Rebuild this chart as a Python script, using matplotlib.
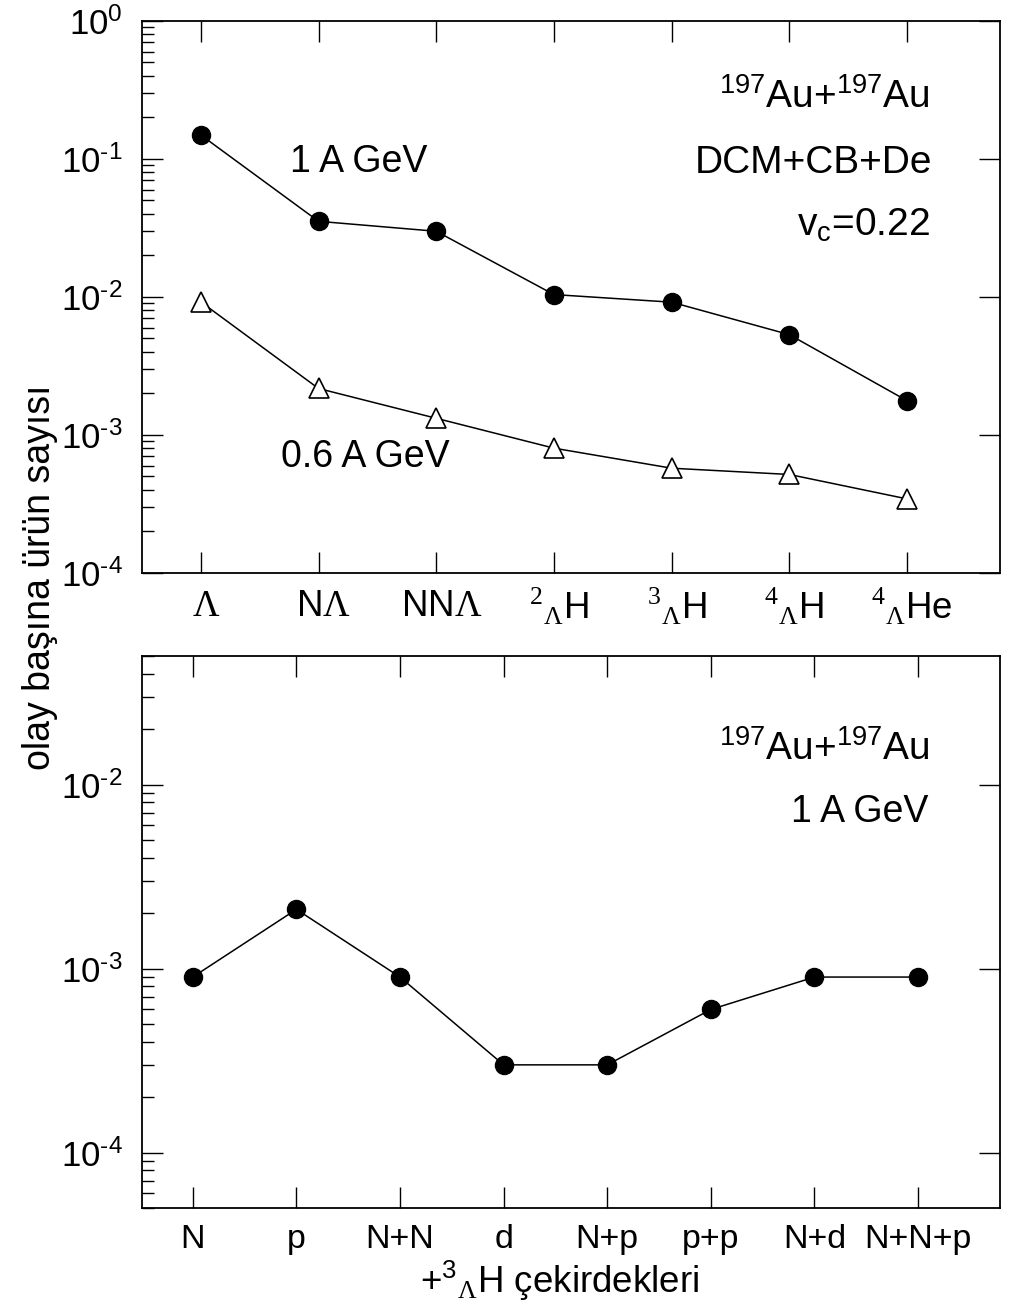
import matplotlib
matplotlib.use("Agg")
import matplotlib.pyplot as plt
import matplotlib.transforms as mtransforms
from matplotlib.ticker import NullLocator, NullFormatter, LogLocator, FuncFormatter
import numpy as np

plt.rcParams['font.family'] = ['Liberation Sans', 'DejaVu Sans']
plt.rcParams['mathtext.fontset'] = 'custom'
plt.rcParams['mathtext.rm'] = 'Liberation Sans'
plt.rcParams['mathtext.it'] = 'Liberation Sans:italic'
plt.rcParams['mathtext.bf'] = 'Liberation Sans:bold'
plt.rcParams['mathtext.tt'] = 'Liberation Serif'
plt.rcParams['axes.unicode_minus'] = False

# top panel: hypernuclei yields
hyper_labels = [r'$\mathtt{\Lambda}$', r'N$\mathtt{\Lambda}$', r'NN$\mathtt{\Lambda}$',
                r'${}^{\mathtt{2}}{}_{\mathtt{\Lambda}}$H', r'${}^{\mathtt{3}}{}_{\mathtt{\Lambda}}$H',
                r'${}^{\mathtt{4}}{}_{\mathtt{\Lambda}}$H', r'${}^{\mathtt{4}}{}_{\mathtt{\Lambda}}$He']
yield_1gev = [0.149, 0.0353, 0.0299, 0.0104, 0.00916, 0.00533, 0.00177]
yield_06gev = [0.0092, 0.00217, 0.00132, 0.000802, 0.000574, 0.000517, 0.000344]

# bottom panel: 3LH + fragments
frag_labels = ['N', 'p', 'N+N', 'd', 'N+p', 'p+p', 'N+d', 'N+N+p']
frag_yield = [9.0e-4, 2.1e-3, 9.0e-4, 3.0e-4, 3.0e-4, 6.0e-4, 9.0e-4, 9.0e-4]

fig = plt.figure(figsize=(10.15, 13.06), dpi=100)
ax1 = fig.add_axes([0.1399, 0.5613, 0.8453, 0.4227])
ax2 = fig.add_axes([0.1399, 0.0750, 0.8453, 0.4227])


def pow_label(v, pos):
    e = int(round(np.log10(v)))
    if e < 0:
        return r'10$^{\text{-%d}}$' % (-e)
    return r'10$^{%d}$' % e


def style_axis(ax, xpad, xsize):
    ax.set_yscale('log')
    ax.yaxis.set_major_locator(LogLocator(base=10, numticks=10))
    ax.yaxis.set_minor_locator(LogLocator(base=10, subs=range(2, 10), numticks=10))
    ax.yaxis.set_major_formatter(FuncFormatter(pow_label))
    ax.yaxis.set_minor_formatter(NullFormatter())
    ax.xaxis.set_minor_locator(NullLocator())
    ax.tick_params(which='both', direction='in', top=True, right=True, colors='black')
    ax.tick_params(which='major', length=15, width=1.0)
    ax.tick_params(which='minor', length=8.5, width=1.0, right=False)
    ax.tick_params(axis='y', labelsize=25, pad=14)
    ax.tick_params(axis='x', labelsize=xsize, pad=xpad)
    for s in ax.spines.values():
        s.set_linewidth(1.3)


# top panel
x1 = range(len(hyper_labels))
ax1.plot(x1, yield_1gev, '-o', color='black', lw=1.1, ms=13)
ax1.plot(x1, yield_06gev, '-^', color='black', lw=1.1, ms=14,
         mfc='white', mec='black', mew=1.2)
style_axis(ax1, 24, 26.5)
ax1.set_xticks(list(x1))
ax1.set_xticklabels(hyper_labels, va='center')
shift = mtransforms.ScaledTranslation(5 / 100, 0, fig.dpi_scale_trans)
for lab in ax1.get_xticklabels():
    lab.set_transform(lab.get_transform() + shift)
ax1.set_xlim(-0.5, 6.79)
ax1.set_ylim(1e-4, 1)

ax1.text(0.9184, 0.8424, r'$^{197}$Au+$^{197}$Au', transform=ax1.transAxes,
         ha='right', va='baseline', fontsize=28)
ax1.text(0.9207, 0.7246, 'DCM+CB+De', transform=ax1.transAxes,
         ha='right', va='baseline', fontsize=28)
ax1.text(0.9184, 0.6105, r'v$_\mathrm{c}$=0.22', transform=ax1.transAxes,
         ha='right', va='baseline', fontsize=28)
ax1.text(0.2529, 0.7264, '1 A GeV', transform=ax1.transAxes,
         ha='center', va='baseline', fontsize=27)
ax1.text(0.2605, 0.1920, '0.6 A GeV', transform=ax1.transAxes,
         ha='center', va='baseline', fontsize=27)

# bottom panel
x2 = range(len(frag_labels))
ax2.plot(x2, frag_yield, '-o', color='black', lw=1.1, ms=13)
style_axis(ax2, 22.3, 24.5)
ax2.set_xticks(list(x2))
ax2.set_xticklabels(frag_labels, va='center')
ax2.set_xlim(-0.49, 7.79)
ax2.set_ylim(5e-5, 5e-2)

ax2.text(0.9184, 0.8116, r'$^{197}$Au+$^{197}$Au', transform=ax2.transAxes,
         ha='right', va='baseline', fontsize=28)
ax2.text(0.9161, 0.6993, '1 A GeV', transform=ax2.transAxes,
         ha='right', va='baseline', fontsize=27)

fig.text(560 / 1015, 0.00995, r'+${}^{3}{}_{\mathtt{\Lambda}}$H çekirdekleri',
         ha='center', va='baseline', fontsize=26.5)
fig.text(40 / 1015, 1 - 577 / 1306, 'olay başına ürün sayısı', rotation=90,
         ha='center', va='center', fontsize=27)

fig.savefig('out.png', dpi=100)
